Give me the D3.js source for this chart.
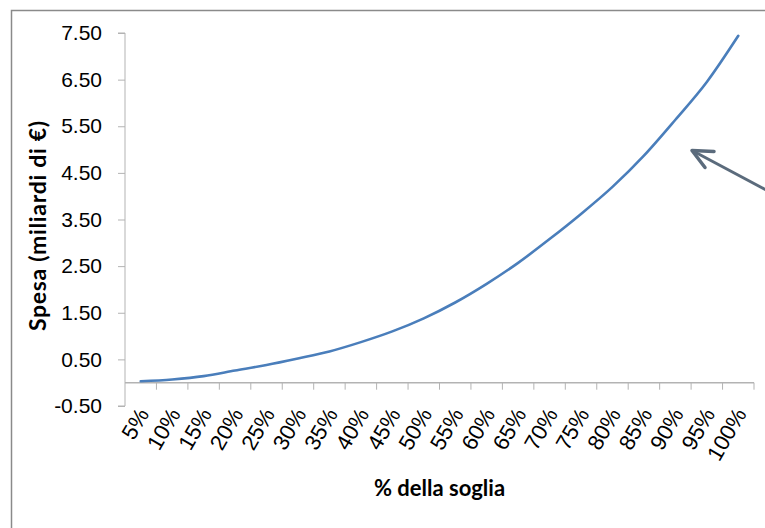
<!DOCTYPE html>
<html>
<head>
<meta charset="utf-8">
<script src="https://cdn.jsdelivr.net/npm/d3@7"></script>
<style>
  html, body { margin: 0; padding: 0; background: #fff; }
  svg { display: block; font-family: Lato, "Open Sans", sans-serif; }
</style>
</head>
<body>
<svg id="chart" width="765" height="528"></svg>
<script>
// Threshold share (category axis)
const categories = ["5%","10%","15%","20%","25%","30%","35%","40%","45%","50%",
                    "55%","60%","65%","70%","75%","80%","85%","90%","95%","100%"];
// Spending, billions of euro
const spesa = [0.03,0.07,0.14,0.26,0.38,0.52,0.67,0.87,1.10,1.38,
               1.72,2.12,2.57,3.08,3.62,4.20,4.87,5.64,6.45,7.44];
// Value axis ticks
const yTicks = [-0.5,0.5,1.5,2.5,3.5,4.5,5.5,6.5,7.5];

const svg = d3.select("#chart");
const plot = { left: 125, right: 754, top: 33, bottom: 406 };

const x = d3.scaleBand().domain(categories).range([plot.left, plot.right]);
const y = d3.scaleLinear().domain([-0.5, 7.5]).range([plot.bottom, plot.top]);

// Outer frame (top and left edges visible)
svg.append("path")
  .attr("d", "M11.5,528 V10.5 H765")
  .attr("fill", "none").attr("stroke", "#8a8a8a").attr("stroke-width", 1.5);

const axisColor = "#b3b3b3";
const fmt = d => d3.format(".2f")(d).replace("\u2212", "-");

// Value axis
const yAxis = svg.append("g")
  .attr("transform", `translate(${plot.left},0)`)
  .call(d3.axisLeft(y).tickValues(yTicks).tickSize(7).tickPadding(16).tickFormat(fmt));
yAxis.select(".domain").attr("stroke", axisColor).attr("stroke-width", 1)
  .attr("d", `M-7,${y(-0.5)}H0V${y(7.5)}H-7`);
yAxis.selectAll(".tick line").attr("stroke", axisColor);
yAxis.selectAll(".tick text")
  .attr("fill", "#000").style("font-size", "21px");

// Category axis, crossing at zero
const xAxis = svg.append("g")
  .attr("transform", `translate(0,${y(0)})`)
  .call(d3.axisBottom(x).tickSize(0).tickFormat(""));
xAxis.select(".domain").attr("stroke", axisColor).attr("stroke-width", 1.5)
  .attr("d", `M${plot.left},0H${plot.right}`);
xAxis.selectAll(".tick").remove();

// Category tick marks on boundaries between bands
const bounds = categories.map(c => x(c)).concat([plot.right]).slice(1);
xAxis.selectAll("line.sep").data(bounds).enter().append("line")
  .attr("class", "sep")
  .attr("x1", d => d).attr("x2", d => d)
  .attr("y1", 0).attr("y2", 7)
  .attr("stroke", axisColor).attr("stroke-width", 1);

// Rotated category labels
xAxis.selectAll("text.cat").data(categories).enter().append("text")
  .attr("class", "cat")
  .attr("transform", d => `translate(${x(d) + x.bandwidth() / 2 + 9},${31}) rotate(-60)`)
  .attr("text-anchor", "end")
  .attr("fill", "#000")
  .style("font-size", "22px")
  .text(d => d);

// Spending curve
const line = d3.line()
  .x((d, i) => x(categories[i]) + x.bandwidth() / 2)
  .y(d => y(d))
  .curve(d3.curveMonotoneX);

svg.append("path")
  .datum(spesa)
  .attr("d", line)
  .attr("fill", "none")
  .attr("stroke", "#4a7ebb")
  .attr("stroke-width", 2.6)
  .attr("stroke-linecap", "round");

// Axis titles
svg.append("text")
  .attr("x", (plot.left + plot.right) / 2).attr("y", 496)
  .attr("text-anchor", "middle")
  .style("font-size", "22px").style("font-weight", "bold")
  .text("% della soglia");

svg.append("text")
  .attr("transform", `translate(46,226) rotate(-90)`)
  .attr("text-anchor", "middle")
  .attr("textLength", 210).attr("lengthAdjust", "spacing")
  .style("font-size", "23px").style("font-weight", "bold")
  .text("Spesa (miliardi di €)");

// Pointer arrow toward the curve
const arrowColor = "#5b6b7c";
svg.append("line")
  .attr("x1", 768).attr("y1", 191).attr("x2", 693).attr("y2", 151)
  .attr("stroke", arrowColor).attr("stroke-width", 3);
svg.append("path")
  .attr("d", "M714,151.5 L692,150.5 L705,167.5")
  .attr("fill", "none").attr("stroke", arrowColor)
  .attr("stroke-width", 3.5).attr("stroke-linecap", "round").attr("stroke-linejoin", "round");
</script>
</body>
</html>
